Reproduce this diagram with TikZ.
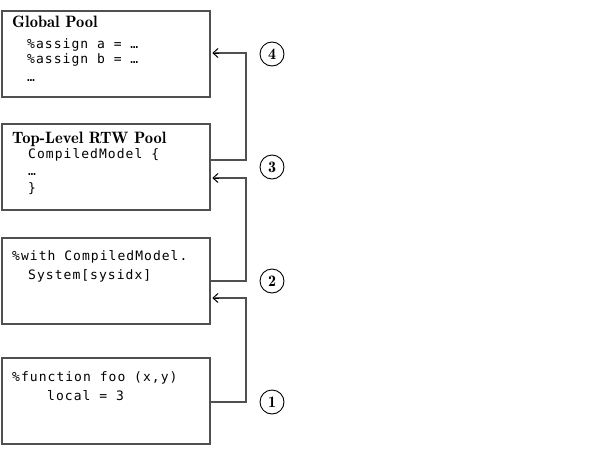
\documentclass[tikz,border=0pt]{standalone}
\usepackage{fontspec}
\usetikzlibrary{arrows.meta}
\newfontfamily\codefont{DejaVu Sans Mono}[LetterSpace=8]
\definecolor{linegray}{HTML}{505050}
\begin{document}
\begin{tikzpicture}[x=1pt,y=-1pt,
  box/.style={draw=linegray, line width=1.8pt, anchor=north west, minimum width=208pt, minimum height=86pt, inner sep=0pt},
  ttl/.style={anchor=base west, inner sep=0pt, font=\fontsize{16.5}{18}\fontseries{b}\selectfont},
  code/.style={anchor=base west, inner sep=0pt, font=\fontsize{13}{15}\codefont},
  conn/.style={draw=linegray, line width=1.8pt},
  tip/.style={draw=black, line width=1pt, -{Straight Barb[length=5pt,width=9pt]}},
  num/.style={circle, draw=black, line width=0.9pt, minimum size=24pt, inner sep=0pt, font=\fontsize{16}{16}\fontseries{b}\selectfont}]
\useasboundingbox (0,0) rectangle (594,450);

% boxes
\node[box] (b1) at (1,10) {};
\node[box] (b2) at (1,123) {};
\node[box] (b3) at (1,237) {};
\node[box] (b4) at (1,357) {};

% box 1 text
\node[ttl] (t1) at (12,27) {Global Pool};
\node[code] (t1a) at (27,48) {\%assign a = …};
\node[code] (t1b) at (27,63) {\%assign b = …};
\node[code] (t1c) at (27,81) {…};

% box 2 text
\node[ttl] (t2) at (12,143) {Top-Level RTW Pool};
\node[code] (t2a) at (28,158) {CompiledModel \{};
\node[code] (t2b) at (28,175) {…};
\node[code] (t2c) at (28,192) {\}};

% box 3 text
\node[code] (t3a) at (12,260) {\%with CompiledModel.};
\node[code] (t3b) at (28,279) {System[sysidx]};

% box 4 text
\node[code] (t4a) at (12,381) {\%function foo (x,y)};
\node[code] (t4b) at (47,400) {local = 3};

% connector corners
\coordinate (c4t) at (246,53);
\coordinate (c4b) at (246,160);
\coordinate (c3t) at (246,178);
\coordinate (c3b) at (246,281);
\coordinate (c2t) at (246,298);
\coordinate (c2b) at (246,402);

\draw[conn] (b2.east |- c4b) -- (c4b) -- (c4t) -- ([xshift=4pt]b1.east |- c4t);
\draw[conn] (b3.east |- c3b) -- (c3b) -- (c3t) -- ([xshift=4pt]b2.east |- c3t);
\draw[conn] (b4.east |- c2b) -- (c2b) -- (c2t) -- ([xshift=4pt]b3.east |- c2t);
\draw[tip] ([xshift=8pt]b1.east |- c4t) -- ([xshift=1.5pt]b1.east |- c4t);
\draw[tip] ([xshift=8pt]b2.east |- c3t) -- ([xshift=1.5pt]b2.east |- c3t);
\draw[tip] ([xshift=8pt]b3.east |- c2t) -- ([xshift=1.5pt]b3.east |- c2t);

% numbers
\node[num] (n4) at (272,54) {4};
\node[num] (n3) at (272,167) {3};
\node[num] (n2) at (272,281) {2};
\node[num] (n1) at (272,402) {1};
\end{tikzpicture}
\end{document}
